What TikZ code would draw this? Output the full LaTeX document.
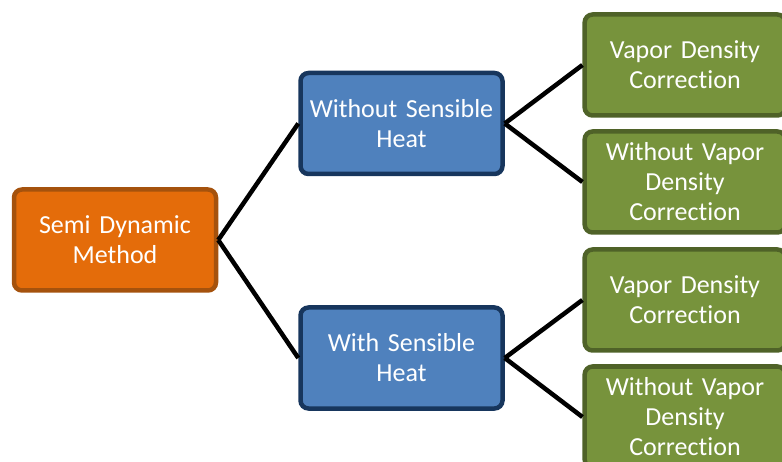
\documentclass[tikz,border=0pt]{standalone}
\usepackage{fontspec}
\setmainfont{Carlito}[Ligatures=CommonOff]
\usepackage{tikz}
\definecolor{rootfill}{HTML}{E46C0A}
\definecolor{rootline}{HTML}{A5520D}
\definecolor{midfill}{HTML}{4F81BD}
\definecolor{midline}{HTML}{17365D}
\definecolor{leaffill}{HTML}{77933C}
\definecolor{leafline}{HTML}{4F6228}

\begin{document}
\begin{tikzpicture}[x=1pt,y=-1pt,
  box/.style={rectangle,rounded corners=8pt,line width=4.5pt,
  text=white,align=center,text width=194pt,
  minimum width=202pt,minimum height=101pt,
  font=\fontsize{26}{30}\selectfont},
  root node/.style={box,fill=rootfill,draw=rootline},
  mid node/.style={box,fill=midfill,draw=midline},
  leaf node/.style={box,fill=leaffill,draw=leafline,minimum width=200pt}]

  \useasboundingbox (0,0) rectangle (782,462);

  \node[root node] (semi) at (115,240) {Semi Dynamic\\Method};
  \node[mid node] (without) at (401.5,123.5) {Without Sensible\\Heat};
  \node[mid node] (with) at (401.5,358) {With Sensible\\Heat};

  \node[leaf node] (vdcOne) at (685,65) {Vapor Density\\Correction};
  \node[leaf node] (novdcOne) at (685,182) {Without Vapor\\Density\\Correction};
  \node[leaf node] (vdcTwo) at (685,300) {Vapor Density\\Correction};
  \node[leaf node] (novdcTwo) at (685,417) {Without Vapor\\Density\\Correction};

  \path[draw,line width=4.5pt]
    (semi.east) edge (without.west)
    (semi.east) edge (with.west)
    (without.east) edge (vdcOne.west)
    (without.east) edge (novdcOne.west)
    (with.east) edge (vdcTwo.west)
    (with.east) edge (novdcTwo.west);
\end{tikzpicture}
\end{document}
